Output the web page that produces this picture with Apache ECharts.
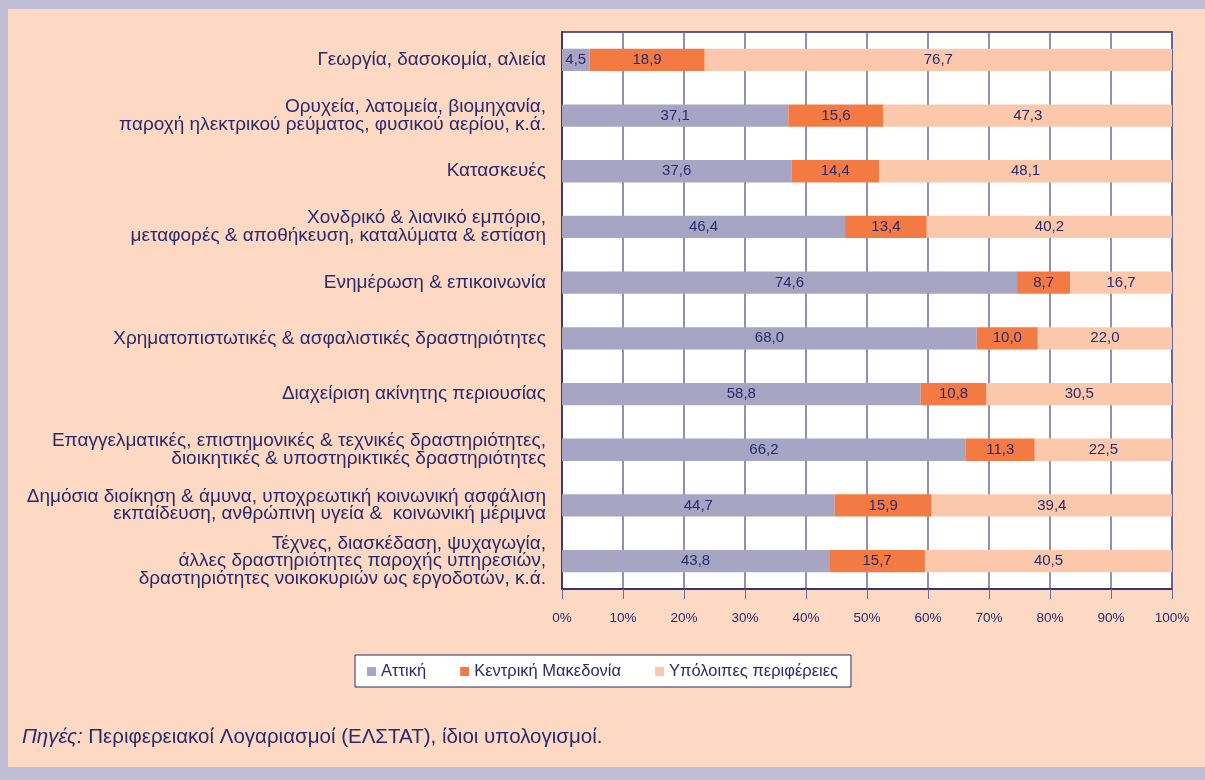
<!DOCTYPE html>
<html>
<head>
<meta charset="utf-8">
<script src="https://cdn.jsdelivr.net/npm/echarts@6/dist/echarts.min.js"></script>
<style>
  html, body { margin: 0; padding: 0; background: #c0bdd6; }
  #chart { position: absolute; left: 8px; top: 9px; width: 1197px; height: 758px; background: #fdd9c4; }
</style>
</head>
<body>
<div id="chart"></div>
<script>
// κλάδοι
var categories = [
  'Γεωργία, δασοκομία, αλιεία',
  'Ορυχεία, λατομεία, βιομηχανία,\nπαροχή ηλεκτρικού ρεύματος, φυσικού αερίου, κ.ά.',
  'Κατασκευές',
  'Χονδρικό & λιανικό εμπόριο,\nμεταφορές & αποθήκευση, καταλύματα & εστίαση',
  'Ενημέρωση & επικοινωνία',
  'Χρηματοπιστωτικές & ασφαλιστικές δραστηριότητες',
  'Διαχείριση ακίνητης περιουσίας',
  'Επαγγελματικές, επιστημονικές & τεχνικές δραστηριότητες,\nδιοικητικές & υποστηρικτικές δραστηριότητες',
  'Δημόσια διοίκηση & άμυνα, υποχρεωτική κοινωνική ασφάλιση\nεκπαίδευση, ανθρώπινη υγεία &  κοινωνική μέριμνα',
  'Τέχνες, διασκέδαση, ψυχαγωγία,\nάλλες δραστηριότητες παροχής υπηρεσιών,\nδραστηριότητες νοικοκυριών ως εργοδοτών, κ.ά.'
];
var seriesNames = ['Αττική', 'Κεντρική Μακεδονία', 'Υπόλοιπες περιφέρειες'];
var attiki = [4.5, 37.1, 37.6, 46.4, 74.6, 68.0, 58.8, 66.2, 44.7, 43.8];
var kentrikiMak = [18.9, 15.6, 14.4, 13.4, 8.7, 10.0, 10.8, 11.3, 15.9, 15.7];
var ypoloipes = [76.7, 47.3, 48.1, 40.2, 16.7, 22.0, 30.5, 22.5, 39.4, 40.5];
var xTicks = [0, 10, 20, 30, 40, 50, 60, 70, 80, 90, 100];

var navy = '#2b2a6b';
var font = 'Liberation Sans, Arial, sans-serif';

var chart = echarts.init(document.getElementById('chart'));

function makeSeries(name, data, color) {
  return {
    name: name,
    type: 'bar',
    stack: 'total',
    barWidth: '40%',
    data: data,
    itemStyle: { color: color },
    label: {
      show: true,
      position: 'inside',
      color: navy,
      fontSize: 15,
      fontFamily: font,
      formatter: function (p) { return p.value.toFixed(1).replace('.', ','); }
    }
  };
}

var option = {
  textStyle: { fontFamily: font },
  animation: false,
  grid: {
    left: 554,
    right: 33,
    top: 23,
    bottom: 178,
    show: true,
    backgroundColor: '#ffffff',
    borderColor: navy,
    borderWidth: 1.5
  },
  legend: {
    data: seriesNames,
    left: 347,
    top: 646,
    backgroundColor: '#ffffff',
    borderColor: navy,
    borderWidth: 1,
    borderRadius: 0,
    padding: [8, 13, 7, 12],
    itemGap: 34,
    icon: 'rect',
    itemWidth: 9,
    itemHeight: 9,
    textStyle: { color: navy, fontSize: 16.5, fontFamily: font }
  },
  title: {
    left: 9,
    top: 713,
    text: '{i|Πηγές:} Περιφερειακοί Λογαριασμοί (ΕΛΣΤΑΤ), ίδιοι υπολογισμοί.',
    textStyle: {
      color: navy,
      fontSize: 20.5,
      fontWeight: 'normal',
      fontFamily: font,
      rich: {
        i: { fontStyle: 'italic', color: navy, fontSize: 20.5, fontFamily: font }
      }
    }
  },
  xAxis: {
    type: 'value',
    min: xTicks[0],
    max: xTicks[xTicks.length - 1],
    interval: 10,
    axisLine: { show: true, lineStyle: { color: navy, width: 1.5 } },
    axisTick: { show: true, length: 10, lineStyle: { color: '#6e6a9c' } },
    splitLine: { show: true, lineStyle: { color: '#6e6a9c', width: 1.5 } },
    axisLabel: {
      color: navy,
      fontSize: 13.5,
      margin: 22,
      formatter: function (v) { return v + '%'; }
    }
  },
  yAxis: {
    type: 'category',
    inverse: true,
    data: categories,
    axisLine: { show: true, lineStyle: { color: navy, width: 1.5 } },
    axisTick: { show: false },
    axisLabel: {
      color: navy,
      fontSize: 19,
      lineHeight: 17.5,
      margin: 16,
      align: 'right'
    }
  },
  series: [
    makeSeries(seriesNames[0], attiki, '#a8a4c4'),
    makeSeries(seriesNames[1], kentrikiMak, '#f47a44'),
    makeSeries(seriesNames[2], ypoloipes, '#fbc8ac')
  ]
};

chart.setOption(option);
</script>
</body>
</html>
